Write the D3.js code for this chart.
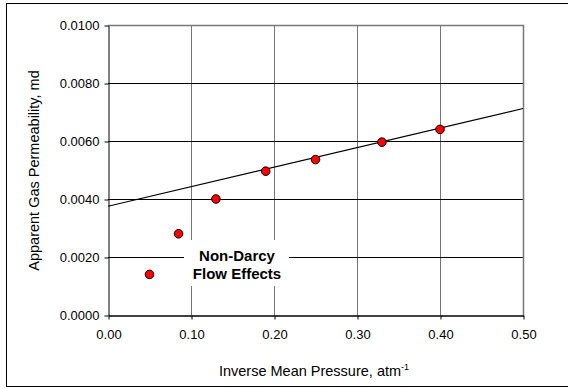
<!DOCTYPE html>
<html>
<head>
<meta charset="utf-8">
<script src="https://cdn.jsdelivr.net/npm/d3@7"></script>
<style>
  html, body { margin: 0; padding: 0; background: #fff; }
  svg { display: block; font-family: "Liberation Sans", Arial, sans-serif; }
</style>
</head>
<body>
<svg id="chart" width="568" height="388"></svg>
<script>
// Measured gas permeability versus inverse mean pressure
const inversePressure = [0.05, 0.085, 0.13, 0.19, 0.25, 0.33, 0.40];
const permeability    = [0.0014, 0.0028, 0.0040, 0.00496, 0.00536, 0.00596, 0.0064];

// Klinkenberg straight-line fit, drawn between its end points
const fitX = [0.0, 0.5];
const fitY = [0.00375, 0.00712];

const xTicks = [0.0, 0.1, 0.2, 0.3, 0.4, 0.5];
const yTicks = [0.0, 0.002, 0.004, 0.006, 0.008, 0.01];

const noteLines = ["Non-Darcy", "Flow Effects"];

const svg = d3.select("#chart");
const W = 568;
const plot = { left: 108, right: 523, top: 25, bottom: 315 };

// outer frame
svg.append("rect")
  .attr("x", 6.5).attr("y", 3.5)
  .attr("width", W).attr("height", 383)
  .attr("fill", "#fff").attr("stroke", "#000").attr("stroke-width", 1);

const x = d3.scaleLinear().domain([0, 0.5]).range([plot.left, plot.right]);
const y = d3.scaleLinear().domain([0, 0.01]).range([plot.bottom, plot.top]);

// vertical grid lines
svg.append("g").selectAll("line")
  .data(xTicks.filter(d => d > 0))
  .join("line")
  .attr("x1", d => Math.round(x(d)) + 0.5).attr("x2", d => Math.round(x(d)) + 0.5)
  .attr("y1", plot.top).attr("y2", plot.bottom)
  .attr("stroke", "#777").attr("stroke-width", 1);

// horizontal grid lines
svg.append("g").selectAll("line")
  .data(yTicks.filter(d => d > 0 && d < 0.01))
  .join("line")
  .attr("x1", plot.left).attr("x2", plot.right)
  .attr("y1", d => Math.round(y(d)) + 0.5).attr("y2", d => Math.round(y(d)) + 0.5)
  .attr("stroke", "#000").attr("stroke-width", 1);

// top and right edge of the plot area
svg.append("path")
  .attr("d", `M${plot.left},${plot.top + 0.5}H${plot.right + 0.5}V${plot.bottom}`)
  .attr("fill", "none").attr("stroke", "#777").attr("stroke-width", 1.5);

const tickFont = "Liberation Sans, Arial, sans-serif";

// y axis
const yAxis = d3.axisLeft(y).tickValues(yTicks).tickFormat(d3.format(".4f"))
  .tickSizeOuter(0).tickSizeInner(4).tickPadding(5);
const gy = svg.append("g").attr("transform", `translate(${plot.left + 0.5},0.5)`).call(yAxis);
gy.select(".domain").attr("stroke", "#000");
gy.selectAll("text").attr("font-size", 13).attr("fill", "#000").attr("font-family", tickFont);

// x axis
const xAxis = d3.axisBottom(x).tickValues(xTicks).tickFormat(d3.format(".2f"))
  .tickSizeOuter(0).tickSizeInner(4).tickPadding(10);
const gx = svg.append("g").attr("transform", `translate(0.5,${plot.bottom + 0.5})`).call(xAxis);
gx.select(".domain").attr("stroke", "#000").attr("stroke-width", 1.5);
gx.selectAll("text").attr("font-size", 13).attr("fill", "#000").attr("font-family", tickFont);

// fitted line
svg.append("line")
  .attr("x1", x(fitX[0])).attr("y1", y(fitY[0]))
  .attr("x2", x(fitX[1])).attr("y2", y(fitY[1]))
  .attr("stroke", "#000").attr("stroke-width", 1.2);

// annotation box
const note = svg.append("g");
note.append("rect")
  .attr("x", 184).attr("y", 240).attr("width", 105).attr("height", 46)
  .attr("fill", "#fff");
note.append("text")
  .attr("x", 237).attr("y", 261)
  .attr("text-anchor", "middle").attr("font-size", 15).attr("font-weight", "bold")
  .selectAll("tspan").data(noteLines).join("tspan")
  .attr("x", 237).attr("dy", (d, i) => i === 0 ? 0 : 18)
  .text(d => d);

// data points
svg.append("g").selectAll("circle")
  .data(inversePressure.map((v, i) => [v, permeability[i]]))
  .join("circle")
  .attr("cx", d => x(d[0])).attr("cy", d => y(d[1]))
  .attr("r", 4.3)
  .attr("fill", "#ff0000").attr("stroke", "#000").attr("stroke-width", 1);

// axis titles
const xt = svg.append("text")
  .attr("x", 314).attr("y", 376)
  .attr("text-anchor", "middle").attr("font-size", 14.5);
xt.append("tspan").text("Inverse Mean Pressure, atm");
xt.append("tspan").attr("font-size", 9).attr("dy", -6).text("-1");

svg.append("text")
  .attr("transform", "translate(39,170.5) rotate(-90)")
  .attr("text-anchor", "middle").attr("font-size", 14.5)
  .text("Apparent Gas Permeability, md");
</script>
</body>
</html>
